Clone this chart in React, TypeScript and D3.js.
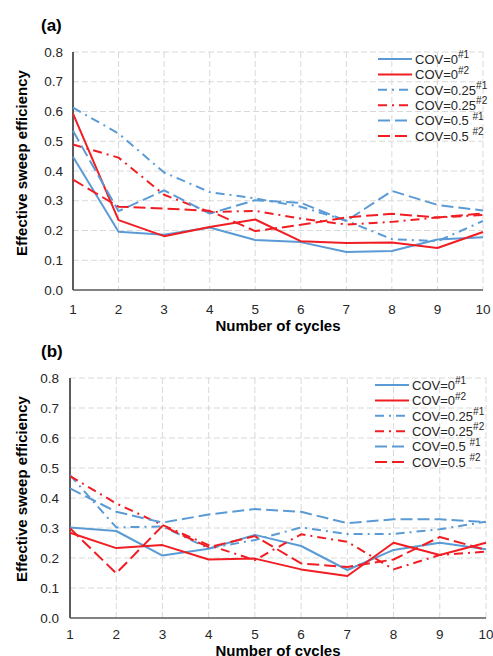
import React, { useRef, useEffect } from 'react';
import * as d3 from 'd3';

// cycles on the x axis, efficiency ticks on the y axis
const cycles = [1, 2, 3, 4, 5, 6, 7, 8, 9, 10];
const yTicks = [0, 0.1, 0.2, 0.3, 0.4, 0.5, 0.6, 0.7, 0.8];

// panel (a)
const aCov0n1 = [0.448, 0.196, 0.186, 0.21, 0.168, 0.161, 0.128, 0.131, 0.17, 0.177];
const aCov0n2 = [0.593, 0.235, 0.181, 0.212, 0.237, 0.164, 0.158, 0.16, 0.141, 0.195];
const aCov025n1 = [0.613, 0.526, 0.395, 0.329, 0.308, 0.28, 0.233, 0.171, 0.164, 0.232];
const aCov025n2 = [0.489, 0.445, 0.32, 0.262, 0.266, 0.24, 0.22, 0.229, 0.244, 0.252];
const aCov05n1 = [0.535, 0.265, 0.335, 0.257, 0.302, 0.293, 0.232, 0.333, 0.286, 0.267];
const aCov05n2 = [0.371, 0.28, 0.274, 0.266, 0.198, 0.219, 0.244, 0.256, 0.244, 0.257];

// panel (b)
const bCov0n1 = [0.302, 0.29, 0.208, 0.231, 0.277, 0.24, 0.16, 0.227, 0.251, 0.229];
const bCov0n2 = [0.284, 0.233, 0.243, 0.195, 0.198, 0.162, 0.14, 0.251, 0.21, 0.251];
const bCov025n1 = [0.476, 0.302, 0.305, 0.232, 0.26, 0.302, 0.28, 0.28, 0.296, 0.321];
const bCov025n2 = [0.473, 0.382, 0.31, 0.243, 0.193, 0.279, 0.254, 0.162, 0.21, 0.221];
const bCov05n1 = [0.432, 0.354, 0.318, 0.345, 0.363, 0.354, 0.316, 0.329, 0.329, 0.32];
const bCov05n2 = [0.299, 0.149, 0.307, 0.236, 0.273, 0.182, 0.17, 0.195, 0.27, 0.227];

const seriesLabels = ['COV=0', 'COV=0', 'COV=0.25', 'COV=0.25', 'COV=0.5 ', 'COV=0.5 '];
const seriesSups = ['#1', '#2', '#1', '#2', '#1', '#2'];

const BLUE = '#5b9bd5';
const RED = '#f01e23';
const FONT = 'Liberation Sans, Arial, sans-serif';

const seriesStyle = [
  { color: BLUE, dash: null },
  { color: RED, dash: null },
  { color: BLUE, dash: '9,5,2,5' },
  { color: RED, dash: '9,5,2,5' },
  { color: BLUE, dash: '12,5' },
  { color: RED, dash: '12,5' },
];

const panels = [
  {
    tag: '(a)', tagY: 31,
    series: [aCov0n1, aCov0n2, aCov025n1, aCov025n2, aCov05n1, aCov05n2],
    left: 73, right: 483, top: 52, bottom: 290,
    xTickY: 314, xTitleY: 331, yTickX: 63, yTitleX: 27, yTitleY: 163,
    legX: 378, legY: 59,
  },
  {
    tag: '(b)', tagY: 357,
    series: [bCov0n1, bCov0n2, bCov025n1, bCov025n2, bCov05n1, bCov05n2],
    left: 70, right: 486, top: 378, bottom: 618,
    xTickY: 639, xTitleY: 656, yTickX: 59, yTitleX: 27, yTitleY: 489,
    legX: 375, legY: 385,
  },
];

const App = () => {
  const ref = useRef(null);

  useEffect(() => {
    const svg = d3.select(ref.current);
    svg.selectAll('*').remove();

    panels.forEach(p => {
      const g = svg.append('g');
      const x = d3.scaleLinear().domain([1, 10]).range([p.left, p.right]);
      const y = d3.scaleLinear().domain([0, 0.8]).range([p.bottom, p.top]);

      // grid
      g.selectAll('.hgrid')
        .data(yTicks.filter(t => t > 0))
        .enter().append('line')
        .attr('x1', p.left).attr('x2', p.right)
        .attr('y1', d => y(d)).attr('y2', d => y(d))
        .attr('stroke', '#d9d9d9').attr('stroke-width', 1)
        .attr('stroke-dasharray', '6,3');

      g.selectAll('.vgrid')
        .data(cycles.filter(c => c > 1))
        .enter().append('line')
        .attr('x1', d => x(d)).attr('x2', d => x(d))
        .attr('y1', p.top).attr('y2', p.bottom)
        .attr('stroke', '#d9d9d9').attr('stroke-width', 1)
        .attr('stroke-dasharray', '6,3');

      // axes lines
      g.append('line')
        .attr('x1', p.left).attr('x2', p.left)
        .attr('y1', p.top).attr('y2', p.bottom)
        .attr('stroke', '#262626').attr('stroke-width', 1.5);
      g.append('line')
        .attr('x1', p.left).attr('x2', p.right)
        .attr('y1', p.bottom).attr('y2', p.bottom)
        .attr('stroke', '#595959').attr('stroke-width', 1.5);

      // tick labels
      g.selectAll('.ytick')
        .data(yTicks)
        .enter().append('text')
        .attr('x', p.yTickX).attr('y', d => y(d))
        .attr('dy', '0.35em')
        .attr('text-anchor', 'end')
        .attr('font-family', FONT).attr('font-size', 13.5)
        .attr('fill', '#262626')
        .text(d => d3.format('.1f')(d));

      g.selectAll('.xtick')
        .data(cycles)
        .enter().append('text')
        .attr('x', d => x(d)).attr('y', p.xTickY)
        .attr('text-anchor', 'middle')
        .attr('font-family', FONT).attr('font-size', 13.5)
        .attr('fill', '#262626')
        .text(d => d);

      // titles
      g.append('text')
        .attr('x', (p.left + p.right) / 2).attr('y', p.xTitleY)
        .attr('text-anchor', 'middle')
        .attr('font-family', FONT).attr('font-size', 15).attr('font-weight', 'bold')
        .attr('fill', '#000')
        .text('Number of cycles');

      g.append('text')
        .attr('transform', `translate(${p.yTitleX},${p.yTitleY}) rotate(-90)`)
        .attr('text-anchor', 'middle')
        .attr('font-family', FONT).attr('font-size', 15).attr('font-weight', 'bold')
        .attr('fill', '#000')
        .text('Effective sweep efficiency');

      g.append('text')
        .attr('x', 41).attr('y', p.tagY)
        .attr('font-family', FONT).attr('font-size', 17).attr('font-weight', 'bold')
        .attr('fill', '#000')
        .text(p.tag);

      // series
      const line = d3.line<number>()
        .x((d, i) => x(cycles[i]))
        .y(d => y(d));

      p.series.forEach((vals, i) => {
        const st = seriesStyle[i];
        g.append('path')
          .datum(vals)
          .attr('d', line)
          .attr('fill', 'none')
          .attr('stroke', st.color)
          .attr('stroke-width', 2)
          .attr('stroke-linejoin', 'round')
          .attr('stroke-dasharray', st.dash);
      });

      // legend
      const lg = g.append('g');
      seriesLabels.forEach((lab, i) => {
        const st = seriesStyle[i];
        const ly = p.legY + i * 15.4;
        lg.append('line')
          .attr('x1', p.legX).attr('x2', p.legX + 34)
          .attr('y1', ly).attr('y2', ly)
          .attr('stroke', st.color).attr('stroke-width', 2)
          .attr('stroke-dasharray', st.dash);
        const t = lg.append('text')
          .attr('x', p.legX + 37).attr('y', ly + 4.7)
          .attr('font-family', FONT).attr('font-size', 13)
          .attr('fill', '#262626');
        t.append('tspan').text(lab);
        t.append('tspan')
          .attr('font-size', 10).attr('dy', -5.5)
          .text(seriesSups[i]);
      });
    });
  }, []);

  return (
    <svg ref={ref} width={493} height={656}
      style={{ position: 'absolute', left: 0, top: 0, background: '#fff' }} />
  );
};

export default App;
